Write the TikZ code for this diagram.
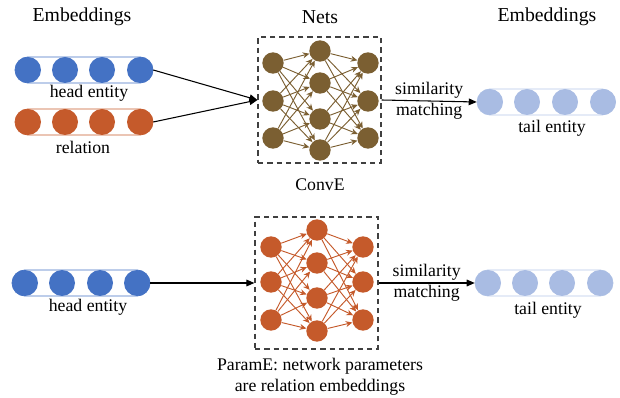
\documentclass[tikz,border=0pt]{standalone}
\usepackage{fontspec}
\setmainfont{Liberation Serif}
\usetikzlibrary{arrows.meta}

\definecolor{embblue}{HTML}{4472C4}
\definecolor{embred}{HTML}{C55A2B}
\definecolor{embtail}{HTML}{A9BCE3}
\definecolor{tailline}{HTML}{B4C7E7}
\definecolor{netbrown}{HTML}{7B5F32}

\tikzstyle{embbar}=[draw, line width=0.6pt, rounded corners=9.75pt, minimum width=103.5pt, minimum height=19.5pt, inner sep=0pt]
\tikzstyle{embunit}=[circle, inner sep=0pt, minimum size=19.5pt]
\tikzstyle{neuron}=[circle, inner sep=0pt, minimum size=16pt]
\tikzstyle{lbl}=[font=\fontsize{13.3}{15.75}\selectfont, align=center, inner sep=1pt]
\tikzstyle{headtxt}=[font=\fontsize{14.8}{17}\selectfont]
\tikzstyle{netbox}=[draw=black!75, dash pattern=on 4pt off 3pt, line width=0.9pt, inner sep=0pt]
\tikzstyle{feed}=[-{Triangle[length=6pt,width=5pt]}, line width=0.8pt]
\tikzstyle{wire}=[-{Stealth[length=5pt,width=4.5pt]}, line width=0.7pt]

\begin{document}
\begin{tikzpicture}[x=0.75pt, y=-0.75pt]
   \useasboundingbox (0,0) rectangle (620,398);

   % Headings

   \node[headtxt] (embl) at (82,17) {Embeddings};
   \node[headtxt] (nets) at (320,17) {Nets};
   \node[headtxt] (embr) at (547,17) {Embeddings};

   % ConvE: input embeddings

   \node[embbar, draw=embblue] (hbar) at (84,70) {};
   \foreach \i/\x in {1/28,2/65,3/102,4/140}
      \node[embunit, fill=embblue] (h\i) at (\x,70) {};
   \node[lbl] (hlab) at (89,93) {head entity};

   \node[embbar, draw=embred] (rbar) at (84,122) {};
   \foreach \i/\x in {1/28,2/65,3/102,4/140}
      \node[embunit, fill=embred] (r\i) at (\x,122) {};
   \node[lbl] (rlab) at (83,147) {relation};

   % ConvE net

   \node[netbox, minimum width=92.25pt, minimum height=94.5pt] (box1) at (319.5,100) {};
   \foreach \i/\y in {1/63,2/101,3/138} {
      \node[neuron, fill=netbrown] (a\i) at (273,\y) {};
      \node[neuron, fill=netbrown] (c\i) at (368,\y) {};
   }
   \foreach \j/\y in {1/51,2/83,3/119,4/150}
      \node[neuron, fill=netbrown] (b\j) at (320,\y) {};
   \foreach \i in {1,2,3}
      \foreach \j in {1,...,4} {
         \draw[wire, netbrown] (a\i) -- (b\j);
         \draw[wire, netbrown] (b\j) -- (c\i);
      }
   \node[lbl] (conve) at (320,185) {ConvE};

   % ConvE output

   \node[embbar, draw=tailline] (tbar) at (546,102) {};
   \foreach \i/\x in {1/490,2/527,3/565,4/603}
      \node[embunit, fill=embtail] (t\i) at (\x,102) {};
   \node[lbl] (tlab) at (552,128) {tail entity};

   \draw[feed] (h4.east) -- (box1.west);
   \draw[feed] (r4.east) -- (box1.west);
   \draw[feed] (box1.east) -- node[lbl] (sim1) {similarity\\matching} (t1.west);

   % ParamE: input embedding

   \node[embbar, draw=embblue] (phbar) at (81,283) {};
   \foreach \i/\x in {1/25,2/62,3/100,4/137}
      \node[embunit, fill=embblue] (ph\i) at (\x,283) {};
   \node[lbl] (phlab) at (88,307) {head entity};

   % ParamE net

   \node[netbox, minimum width=92.25pt, minimum height=99pt] (box2) at (316.5,283) {};
   \foreach \i/\y in {1/247,2/282,3/320} {
      \node[neuron, fill=embred] (pa\i) at (271,\y) {};
      \node[neuron, fill=embred] (pc\i) at (363,\y) {};
   }
   \foreach \j/\y in {1/230,2/263,3/298,4/331}
      \node[neuron, fill=embred] (pb\j) at (317,\y) {};
   \foreach \i in {1,2,3}
      \foreach \j in {1,...,4} {
         \draw[wire, embred] (pa\i) -- (pb\j);
         \draw[wire, embred] (pb\j) -- (pc\i);
      }
   \node[lbl] (parame) at (320,377) {ParamE: network parameters\\are relation embeddings};

   % ParamE output

   \node[embbar, draw=tailline] (ptbar) at (544,283) {};
   \foreach \i/\x in {1/488,2/525,3/562,4/600}
      \node[embunit, fill=embtail] (pt\i) at (\x,283) {};
   \node[lbl] (ptlab) at (548,310) {tail entity};

   \draw[feed] (ph4.east) -- (box2.west);
   \draw[feed] (box2.east) -- node[lbl] (sim2) {similarity\\matching} (pt1.west);

\end{tikzpicture}
\end{document}
